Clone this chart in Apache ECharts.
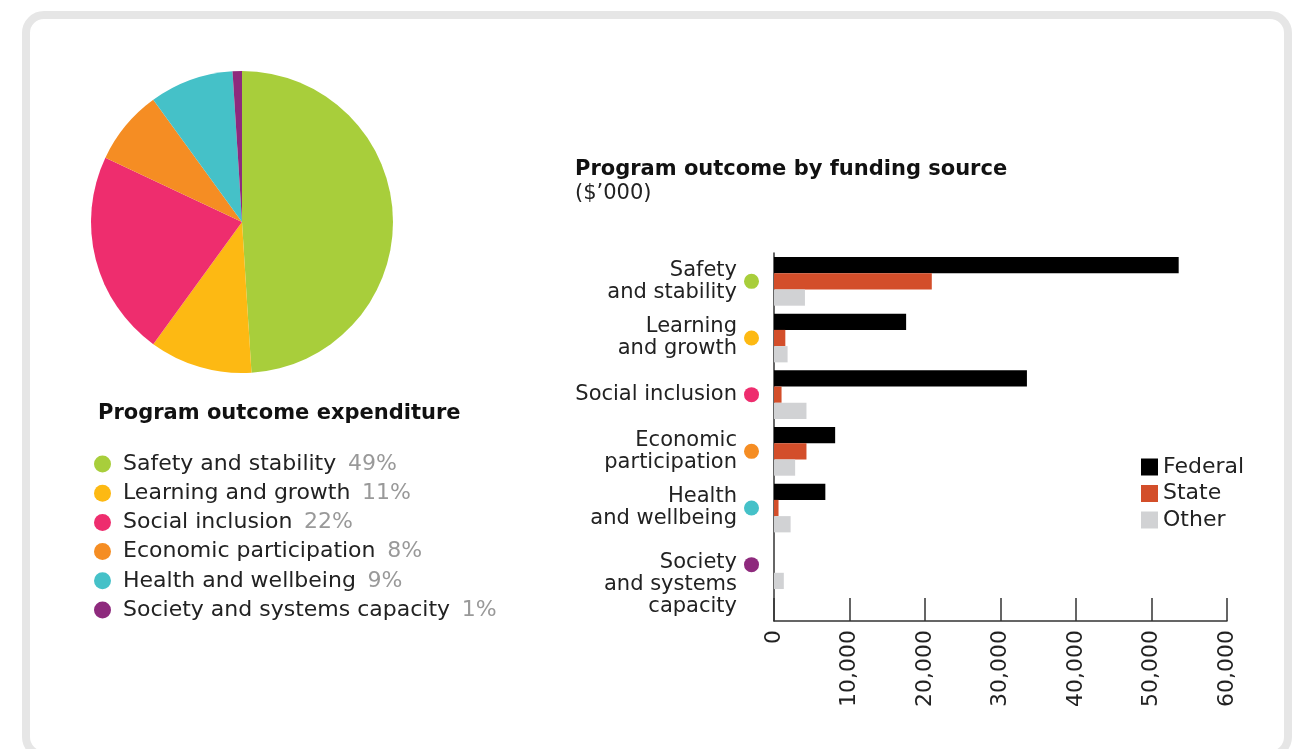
<!DOCTYPE html>
<html>
<head>
<meta charset="utf-8">
<script src="https://cdn.jsdelivr.net/npm/echarts@6/dist/echarts.min.js"></script>
<style>
  html, body { margin: 0; padding: 0; background: #fff; }
  .card {
    position: absolute; left: 22px; top: 11px; width: 1270px; height: 748px;
    box-sizing: border-box; border: 8px solid #e6e6e6; border-radius: 22px;
  }
  #chart { position: absolute; left: 0; top: 0; width: 1300px; height: 749px; }
</style>
</head>
<body>
<div class="card"></div>
<div id="chart"></div>
<script>
// pie: share of program outcome expenditure (%)
const outcomes = [
  "Safety and stability",
  "Learning and growth",
  "Social inclusion",
  "Economic participation",
  "Health and wellbeing",
  "Society and systems capacity",
];
const shares = [49, 11, 22, 8, 9, 1];
const outcomeColors = ["#a8ce3b", "#fdb913", "#ee2d6e", "#f58d23", "#45c1c8", "#8e2a7d"];

// bars: funding source ($'000)
const barLabels = [
  "Safety\nand stability",
  "Learning\nand growth",
  "Social inclusion",
  "Economic\nparticipation",
  "Health\nand wellbeing",
  "Society\nand systems\ncapacity",
];
const federal = [53600, 17500, 33500, 8100, 6800, 0];
const state = [20900, 1500, 1000, 4300, 600, 0];
const other = [4100, 1800, 4300, 2800, 2200, 1300];
const xTicks = [0, 10000, 20000, 30000, 40000, 50000, 60000];

const FONT = "DejaVu Sans";
const dom = document.getElementById("chart");
const mc = echarts.init(dom, null, { renderer: "canvas" });

const dotRich = {};
outcomeColors.forEach((c, i) => {
  dotRich["d" + i] = { width: 15, height: 15, borderRadius: 8, backgroundColor: c };
});

const shareOf = {};
outcomes.forEach((n, i) => { shareOf[n] = shares[i]; });

const option = {
  animation: false,
  textStyle: { fontFamily: FONT },
  title: [
    {
      text: "Program outcome expenditure",
      left: 93, top: 398,
      textStyle: { fontFamily: FONT, fontSize: 21, fontWeight: "bold", color: "#111" },
    },
    {
      text: "Program outcome by funding source",
      subtext: "($\u2019000)",
      left: 570, top: 154, itemGap: 3,
      textStyle: { fontFamily: FONT, fontSize: 21, fontWeight: "bold", color: "#111" },
      subtextStyle: { fontFamily: FONT, fontSize: 21, color: "#222" },
    },
  ],
  legend: [
    {
      data: outcomes,
      orient: "vertical",
      left: 89, top: 448,
      icon: "circle",
      itemWidth: 17, itemHeight: 17, itemGap: 7.2,
      formatter: (name) => "{n|" + name + "}  {p|" + shareOf[name] + "%}",
      textStyle: {
        rich: {
          n: { fontFamily: FONT, fontSize: 22, color: "#222", lineHeight: 20, padding: [0, 0, 0, 7] },
          p: { fontFamily: FONT, fontSize: 22, color: "#999", lineHeight: 20, padding: [0, 0, 0, 4] },
        },
      },
    },
    {
      data: ["Federal", "State", "Other"],
      orient: "vertical",
      left: 1136, top: 451,
      icon: "rect",
      itemWidth: 17, itemHeight: 17, itemGap: 4.5,
      textStyle: { fontFamily: FONT, fontSize: 22, color: "#222", lineHeight: 20 },
    },
  ],
  grid: [
    { left: 774, right: 73, top: 253, height: 340 },
    { left: 774, right: 73, top: 253, bottom: 128 },
  ],
  xAxis: [
    { gridIndex: 0, type: "value", min: 0, max: 60000, show: false },
    {
      gridIndex: 1, type: "value", min: 0, max: 60000, interval: 10000,
      axisLine: { show: true, lineStyle: { color: "#333", width: 1.5 } },
      axisTick: { show: true, inside: true, length: 23, lineStyle: { color: "#333", width: 1.5 } },
      splitLine: { show: false },
      axisLabel: {
        rotate: 90, margin: 9,
        fontFamily: FONT, fontSize: 22, color: "#222",
        formatter: (v) => (xTicks.includes(v) ? v.toLocaleString("en-US") : ""),
      },
    },
  ],
  yAxis: [
    {
      gridIndex: 0, type: "category", data: barLabels, inverse: true,
      axisLine: { show: false }, axisTick: { show: false },
      axisLabel: {
        interval: 0, hideOverlap: false,
        margin: 37, fontFamily: FONT, fontSize: 21, color: "#222",
        lineHeight: 22, align: "right",
        // the three-line label hangs below its dot in the reference
        formatter: (v, i) => (i === barLabels.length - 1 ? "{low|" + v + "}" : v),
        rich: {
          low: { fontFamily: FONT, fontSize: 21, color: "#222", lineHeight: 22, padding: [40, 0, 0, 0] },
        },
      },
    },
    {
      gridIndex: 0, type: "category", data: barLabels, inverse: true, position: "left",
      axisLine: { show: false }, axisTick: { show: false },
      axisLabel: {
        interval: 0, margin: 15,
        formatter: (v, i) => "{d" + i + "|}",
        rich: dotRich,
      },
    },
    {
      gridIndex: 1, type: "value", min: 0, max: 1,
      axisLine: { show: true, lineStyle: { color: "#333", width: 1.5 } },
      axisTick: { show: false }, axisLabel: { show: false }, splitLine: { show: false },
    },
  ],
  series: [
    {
      type: "pie",
      center: [242, 222],
      radius: 151,
      startAngle: 90,
      clockwise: true,
      label: { show: false },
      labelLine: { show: false },
      silent: true,
      data: outcomes.map((n, i) => ({ name: n, value: shares[i], itemStyle: { color: outcomeColors[i] } })),
    },
    {
      name: "Federal", type: "bar", xAxisIndex: 0, yAxisIndex: 0,
      data: federal, itemStyle: { color: "#000" },
      barGap: "0%", barCategoryGap: "14%",
    },
    {
      name: "State", type: "bar", xAxisIndex: 0, yAxisIndex: 0,
      data: state, itemStyle: { color: "#d34e2a" },
      barGap: "0%", barCategoryGap: "14%",
    },
    {
      name: "Other", type: "bar", xAxisIndex: 0, yAxisIndex: 0,
      data: other, itemStyle: { color: "#d1d2d4" },
      barGap: "0%", barCategoryGap: "14%",
    },
  ],
};

mc.setOption(option);
</script>
</body>
</html>
